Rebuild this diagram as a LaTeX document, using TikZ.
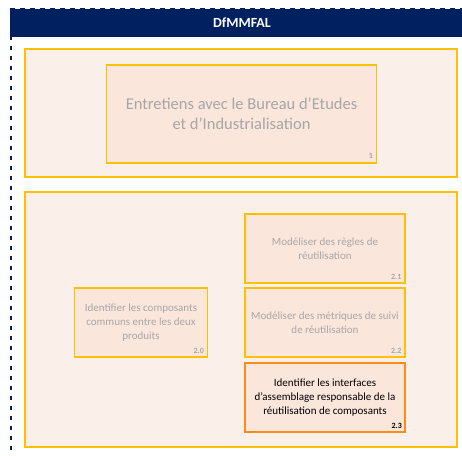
\documentclass[tikz,border=0pt]{standalone}
\usepackage{fontspec}
\setmainfont{Carlito}
\definecolor{navy}{HTML}{002060}
\definecolor{outerfill}{HTML}{FBEFEA}
\definecolor{innerfill}{HTML}{FBE6DC}
\definecolor{ygold}{HTML}{FFC000}
\definecolor{orng}{HTML}{FF8C1A}
\definecolor{fade}{HTML}{A6A6A6}
\tikzset{
  group/.style={draw=ygold, fill=outerfill, line width=1.2pt},
  task/.style={draw=ygold, fill=innerfill, line width=1.2pt, align=center, text=fade, font=\fontsize{11}{14}\selectfont, inner sep=0pt},
  active/.style={draw=orng, fill=innerfill, line width=2.2pt, align=center, text=black, font=\fontsize{11}{14}\selectfont, inner sep=0pt},
  num/.style={font=\bfseries\fontsize{8}{9}\selectfont, anchor=south east, inner sep=0pt, text=fade},
}
\begin{document}
\begin{tikzpicture}[x=1pt,y=-1pt]
\useasboundingbox (0,0) rectangle (462,455);
% container
\fill[navy] (10,9) rectangle (470,37);
\draw[navy, line width=1.8pt, dash pattern=on 4.5pt off 5.5pt] (11,470) -- (11,9) -- (470,9);
\node[font=\bfseries\fontsize{14}{16}\selectfont, text=white] (title) at (242,23) {DfMMFAL};
% group 1
\draw[group] (25,49) rectangle (457,177);
\node[task, minimum width=270pt, minimum height=98pt, font=\fontsize{16.5}{20}\selectfont] (t1) at (241.5,114) {Entretiens avec le Bureau d’Etudes\\et d’Industrialisation};
\node[num] (n1) at ([xshift=-4pt,yshift=5pt]t1.south east) {1};
% group 2
\draw[group] (25,192) rectangle (457,447);
\node[task, minimum width=160pt, minimum height=69pt] (t21) at (325,248.5) {Modéliser des règles de\\réutilisation};
\node[num] (n21) at ([xshift=-4pt,yshift=4pt]t21.south east) {2.1};
\node[task, minimum width=160pt, minimum height=69pt] (t22) at (325,322.5) {Modéliser des métriques de suivi\\de réutilisation};
\node[num] (n22) at ([xshift=-4pt,yshift=4pt]t22.south east) {2.2};
\node[task, minimum width=133pt, minimum height=69pt] (t20) at (141,322.5) {Identifier les composants\\communs entre les deux\\produits};
\node[num] (n20) at ([xshift=-4pt,yshift=4pt]t20.south east) {2.0};
\node[active, minimum width=160pt, minimum height=69pt, text=black] (t23) at (325,397.5) {Identifier les interfaces\\d’assemblage responsable de la\\réutilisation de composants};
\node[num, text=black] (n23) at ([xshift=-4pt,yshift=4pt]t23.south east) {2.3};
\end{tikzpicture}
\end{document}
